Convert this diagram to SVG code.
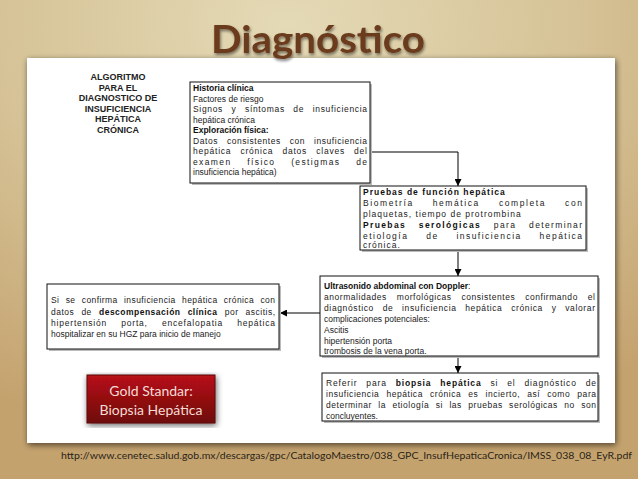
<svg xmlns="http://www.w3.org/2000/svg" width="638" height="479" viewBox="0 0 638 479">
<defs>
<radialGradient id="bg" cx="0.45" cy="0.05" r="0.9">
<stop offset="0" stop-color="#e4dab6"/>
<stop offset="0.5" stop-color="#d6c397"/>
<stop offset="1" stop-color="#c4a26e"/>
</radialGradient>
<linearGradient id="gold" x1="0" y1="0" x2="0" y2="1">
<stop offset="0" stop-color="#b81218"/>
<stop offset="1" stop-color="#6e0808"/>
</linearGradient>
<filter id="sh" x="-10%" y="-10%" width="120%" height="120%">
<feGaussianBlur in="SourceAlpha" stdDeviation="3"/>
<feOffset dx="1" dy="2"/>
<feComponentTransfer><feFuncA type="linear" slope="0.6"/></feComponentTransfer>
<feMerge><feMergeNode/><feMergeNode in="SourceGraphic"/></feMerge>
</filter>
<filter id="tsh" x="-10%" y="-20%" width="120%" height="150%">
<feGaussianBlur in="SourceAlpha" stdDeviation="1.5"/>
<feOffset dx="1" dy="2"/>
<feComponentTransfer><feFuncA type="linear" slope="0.5"/></feComponentTransfer>
<feMerge><feMergeNode/><feMergeNode in="SourceGraphic"/></feMerge>
</filter>
<marker id="ah" viewBox="0 0 10 10" refX="10" refY="5" markerWidth="7" markerHeight="7" orient="auto" markerUnits="userSpaceOnUse">
<path d="M0,0 L10,5 L0,10 z" fill="#000"/>
</marker>
</defs>
<style>
.box{fill:#fff;stroke:#111;stroke-width:1}
.bsh{fill:#bbb}
.t{font-family:"Liberation Sans",Arial,sans-serif;font-size:8.5px;fill:#222}
.ls{letter-spacing:1px}
.b{font-weight:bold;fill:#111}
.h{font-family:"Liberation Sans",Arial,sans-serif;font-size:9px;font-weight:bold;fill:#222;text-anchor:middle}
.c{fill:none;stroke:#000;stroke-width:1}
</style>
<rect width="638" height="479" fill="url(#bg)"/>
<rect x="27" y="58" width="588" height="385" fill="#fff" filter="url(#sh)"/>
<text x="318" y="53" text-anchor="middle" font-family="Lato,'Open Sans',sans-serif" font-weight="bold" font-size="38" fill="#6b3a1c" textLength="214" lengthAdjust="spacingAndGlyphs" filter="url(#tsh)">Diagnóstico</text>

<g id="title-left">
<text class="h" x="118" y="80">ALGORITMO</text>
<text class="h" x="118" y="90.5">PARA EL</text>
<text class="h" x="118" y="101">DIAGNOSTICO DE</text>
<text class="h" x="118" y="111.5">INSUFICIENCIA</text>
<text class="h" x="118" y="122">HEPÁTICA</text>
<text class="h" x="118" y="132.5">CRÓNICA</text>
</g>

<g id="connectors">
<polyline class="c" points="370,152 458,152 458,186" marker-end="url(#ah)"/>
<line class="c" x1="458" y1="251" x2="458" y2="276" marker-end="url(#ah)"/>
<line class="c" x1="320" y1="313" x2="280" y2="313" marker-end="url(#ah)"/>
<line class="c" x1="458" y1="357" x2="458" y2="373" marker-end="url(#ah)"/>
</g>

<g id="historia">
<rect class="bsh" x="192" y="84" width="180" height="101"/>
<rect class="box" x="190" y="82" width="180" height="101"/>
<text class="t b" x="193" y="91">Historia clínica</text>
<text class="t" x="193" y="101.5">Factores de riesgo</text>
<text class="t" x="193" y="112" word-spacing="5.5" textLength="174" lengthAdjust="spacing">Signos y síntomas de insuficiencia</text>
<text class="t" x="193" y="122.5">hepática crónica</text>
<text class="t b" x="193" y="133">Exploración física:</text>
<text class="t" x="193" y="143.5" word-spacing="6" textLength="174" lengthAdjust="spacing">Datos consistentes con insuficiencia</text>
<text class="t" x="193" y="154" word-spacing="6" textLength="174" lengthAdjust="spacing">hepática crónica datos claves del</text>
<text class="t" x="193" y="164.5" word-spacing="12" textLength="174" lengthAdjust="spacing">examen físico (estigmas de</text>
<text class="t" x="193" y="175">insuficiencia hepática)</text>
</g>

<g id="pruebas">
<rect class="bsh" x="362" y="188" width="226" height="64"/>
<rect class="box" x="360" y="186" width="226" height="64"/>
<text class="t ls b" x="363" y="195">Pruebas de función hepática</text>
<text class="t ls" x="363" y="206" word-spacing="15" textLength="220" lengthAdjust="spacing">Biometría hemática completa con</text>
<text class="t ls" x="363" y="217">plaquetas, tiempo de protrombina</text>
<text class="t ls" x="363" y="228" word-spacing="9" textLength="220" lengthAdjust="spacing"><tspan class="b">Pruebas serológicas</tspan> para determinar</text>
<text class="t ls" x="363" y="239" word-spacing="14" textLength="220" lengthAdjust="spacing">etiología de insuficiencia hepática</text>
<text class="t ls" x="363" y="248">crónica.</text>
</g>

<g id="ultrasonido">
<rect class="bsh" x="322" y="278" width="278" height="80"/>
<rect class="box" x="320" y="276" width="278" height="80"/>
<text class="t" x="324" y="289"><tspan class="b">Ultrasonido abdominal con Doppler</tspan>:</text>
<text class="t" x="324" y="300" word-spacing="7" textLength="271" lengthAdjust="spacing">anormalidades morfológicas consistentes confirmando el</text>
<text class="t" x="324" y="311" word-spacing="5.7" textLength="271" lengthAdjust="spacing">diagnóstico de insuficiencia hepática crónica y valorar</text>
<text class="t" x="324" y="322">complicaciones potenciales:</text>
<text class="t" x="324" y="333">Ascitis</text>
<text class="t" x="324" y="344">hipertensión porta</text>
<text class="t" x="324" y="354">trombosis de la vena porta.</text>
</g>

<g id="descompensacion">
<rect class="bsh" x="49" y="286" width="232" height="65"/>
<rect class="box" x="47" y="284" width="232" height="65"/>
<text class="t" x="51" y="303" word-spacing="3.5" textLength="224" lengthAdjust="spacing">Si se confirma insuficiencia hepática crónica con</text>
<text class="t" x="51" y="315" word-spacing="4.3" textLength="224" lengthAdjust="spacing">datos de <tspan class="b">descompensación clínica</tspan> por ascitis,</text>
<text class="t" x="51" y="326" word-spacing="11" textLength="224" lengthAdjust="spacing">hipertensión porta, encefalopatia hepática</text>
<text class="t" x="51" y="337">hospitalizar en su HGZ para inicio de manejo</text>
</g>

<g id="biopsia">
<rect class="bsh" x="324" y="375" width="276" height="48"/>
<rect class="box" x="322" y="373" width="276" height="48"/>
<text class="t" x="326" y="386" word-spacing="5.8" textLength="270" lengthAdjust="spacing">Referir para <tspan class="b">biopsia hepática</tspan> si el diagnóstico de</text>
<text class="t" x="326" y="397" word-spacing="4.2" textLength="270" lengthAdjust="spacing">insuficiencia hepática crónica es incierto, así como para</text>
<text class="t" x="326" y="408" word-spacing="3.6" textLength="270" lengthAdjust="spacing">determinar la etiología si las pruebas serológicas no son</text>
<text class="t" x="326" y="419">concluyentes.</text>
</g>

<g id="gold-standard">
<rect x="87" y="375" width="128" height="48" fill="url(#gold)" stroke="#5a0606" stroke-width="1" filter="url(#sh)"/>
<text x="151" y="396" text-anchor="middle" font-family="Lato,'Open Sans',sans-serif" font-size="14" fill="#f3dcd4">Gold Standar:</text>
<text x="151" y="415" text-anchor="middle" font-family="Lato,'Open Sans',sans-serif" font-size="14" fill="#f3dcd4">Biopsia Hepática</text>
</g>

<text x="61" y="459" font-family="Lato,'Open Sans',sans-serif" font-size="10" fill="#2a2418" textLength="571" lengthAdjust="spacingAndGlyphs">http://www.cenetec.salud.gob.mx/descargas/gpc/CatalogoMaestro/038_GPC_InsufHepaticaCronica/IMSS_038_08_EyR.pdf</text>
</svg>
